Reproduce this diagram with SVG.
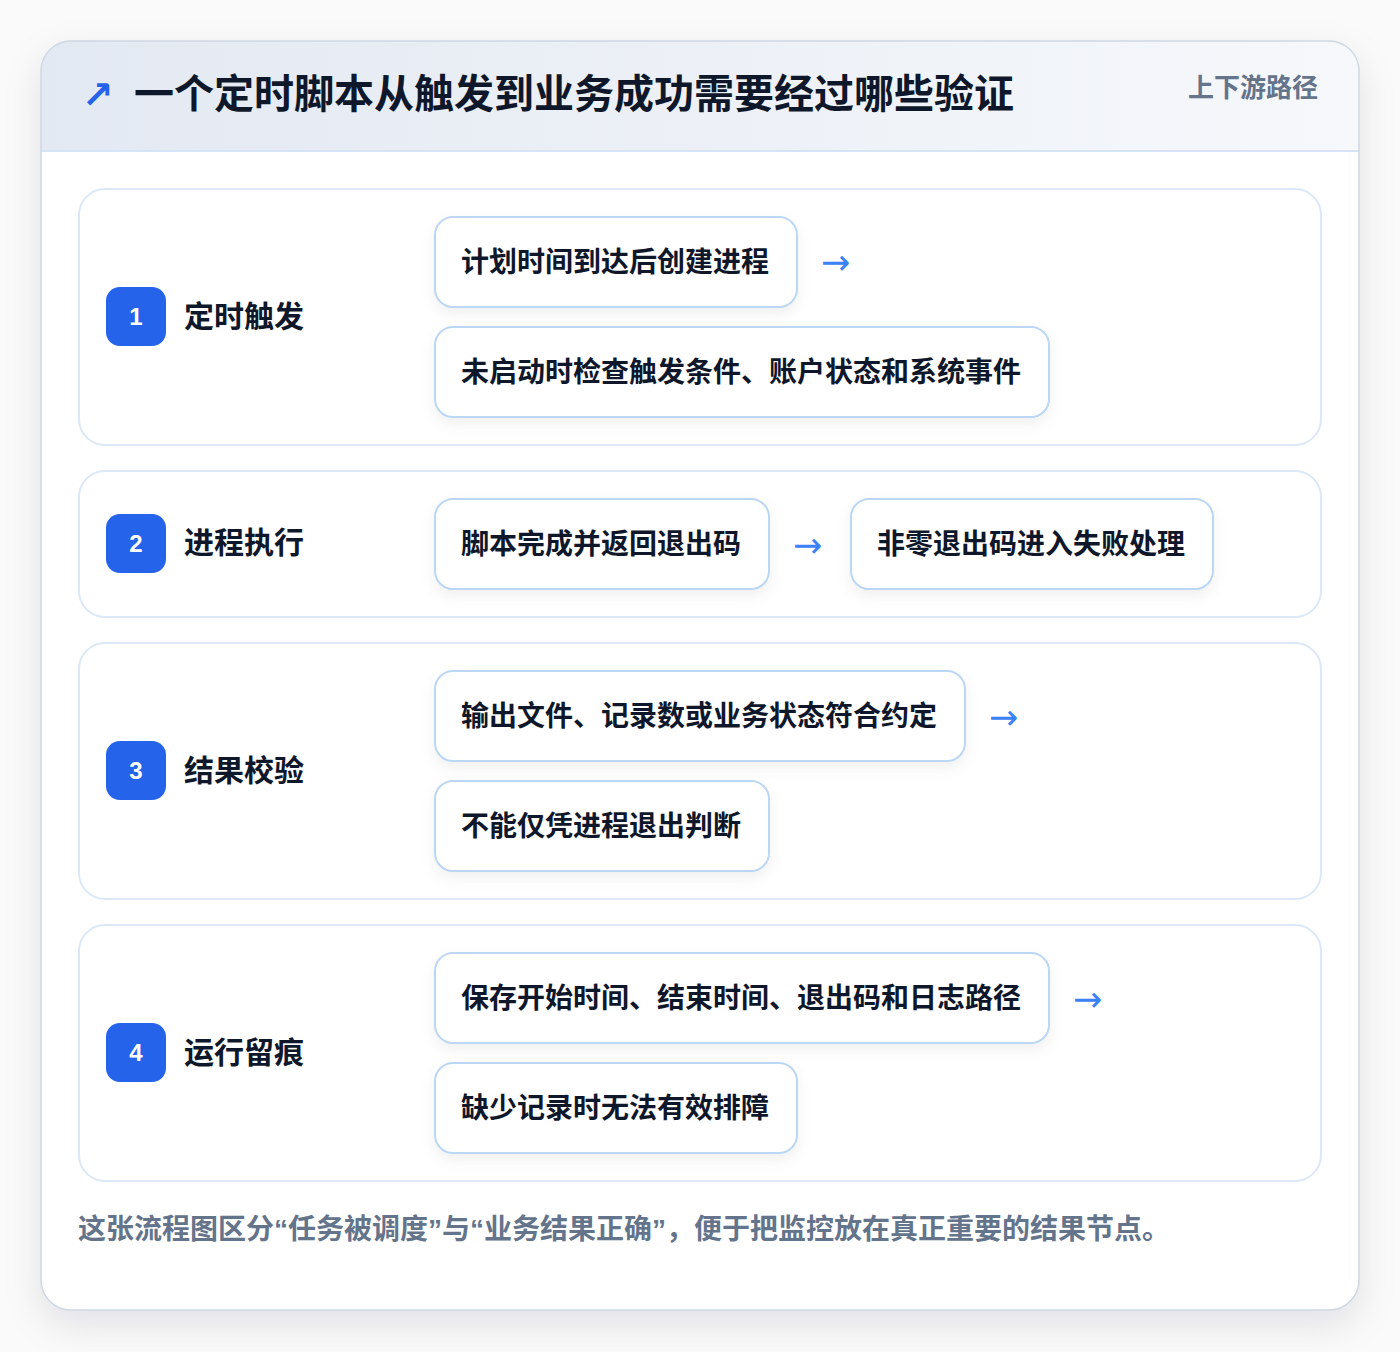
<svg xmlns="http://www.w3.org/2000/svg" width="1400" height="1352" viewBox="0 0 1400 1352">
<style>
.sec{fill:#ffffff;stroke:#dbe8f8;stroke-width:2}
.box{fill:#ffffff;stroke:#bcd6f5;stroke-width:2}
.badge{fill:#2563eb}
.num{font-family:"Liberation Sans",Arial,sans-serif;font-size:24px;font-weight:700;fill:#ffffff;text-anchor:middle}
.lbl{font-family:"Noto Sans CJK SC","Noto Sans",sans-serif;font-size:30px;font-weight:700;fill:#0f172a}
.bt{font-family:"Noto Sans CJK SC","Noto Sans",sans-serif;font-size:28px;font-weight:700;fill:#0f172a}
.arr{font-family:"DejaVu Sans",sans-serif;font-size:35px;fill:#3b82f6}
</style>
<defs>
<filter id="cardShadow" x="-10%" y="-10%" width="120%" height="125%">
<feDropShadow dx="0" dy="14" stdDeviation="18" flood-color="#0f172a" flood-opacity="0.10"/>
</filter>
<filter id="boxShadow" x="-10%" y="-20%" width="120%" height="150%">
<feDropShadow dx="0" dy="6" stdDeviation="7" flood-color="#0f172a" flood-opacity="0.06"/>
</filter>
<linearGradient id="hdr" x1="0" y1="0" x2="1" y2="0">
<stop offset="0" stop-color="#e3e9f2"/>
<stop offset="1" stop-color="#f6f8fb"/>
</linearGradient>
<clipPath id="cardClip"><rect x="41" y="41" width="1318" height="1269" rx="30"/></clipPath>
</defs>
<rect x="0" y="0" width="1400" height="1352" fill="#fafafa"/>
<g id="card">
<rect x="41" y="41" width="1318" height="1269" rx="30" fill="#ffffff" filter="url(#cardShadow)"/>
<g clip-path="url(#cardClip)">
<rect x="41" y="41" width="1318" height="110" fill="url(#hdr)"/>
<line x1="41" y1="151" x2="1359" y2="151" stroke="#d6e4f5" stroke-width="2"/>
</g>
<rect x="41" y="41" width="1318" height="1269" rx="30" fill="none" stroke="#cfd8e3" stroke-width="1.5"/>
</g>
<g id="header">
<text x="82" y="108" font-family="DejaVu Sans,sans-serif" font-size="38" font-weight="700" fill="#2563eb">↗</text>
<text x="134" y="108" font-family="Noto Sans CJK SC,Noto Sans,sans-serif" font-size="40" font-weight="700" fill="#0f172a">一个定时脚本从触发到业务成功需要经过哪些验证</text>
<text x="1318" y="97" text-anchor="end" font-family="Noto Sans CJK SC,Noto Sans,sans-serif" font-size="26" font-weight="600" fill="#64748b">上下游路径</text>
</g>
<g id="stage1">
<rect class="sec" x="79" y="189" width="1242" height="256" rx="26"/>
<rect class="badge" x="106" y="287" width="60" height="59" rx="14"/>
<text class="num" x="136" y="325">1</text>
<text class="lbl" x="184" y="327">定时触发</text>
</g>
<g id="node1a"><rect class="box" filter="url(#boxShadow)" x="435" y="217" width="362" height="90" rx="18"/><text class="bt" x="461" y="272">计划时间到达后创建进程</text></g>
<g id="node1b"><rect class="box" filter="url(#boxShadow)" x="435" y="327" width="614" height="90" rx="18"/><text class="bt" x="461" y="382">未启动时检查触发条件、账户状态和系统事件</text></g>
<g id="stage2">
<rect class="sec" x="79" y="471" width="1242" height="146" rx="26"/>
<rect class="badge" x="106" y="514" width="60" height="59" rx="14"/>
<text class="num" x="136" y="552">2</text>
<text class="lbl" x="184" y="553">进程执行</text>
</g>
<g id="node2a"><rect class="box" filter="url(#boxShadow)" x="435" y="499" width="334" height="90" rx="18"/><text class="bt" x="461" y="554">脚本完成并返回退出码</text></g>
<g id="node2b"><rect class="box" filter="url(#boxShadow)" x="851" y="499" width="362" height="90" rx="18"/><text class="bt" x="877" y="554">非零退出码进入失败处理</text></g>
<g id="stage3">
<rect class="sec" x="79" y="643" width="1242" height="256" rx="26"/>
<rect class="badge" x="106" y="741" width="60" height="59" rx="14"/>
<text class="num" x="136" y="779">3</text>
<text class="lbl" x="184" y="781">结果校验</text>
</g>
<g id="node3a"><rect class="box" filter="url(#boxShadow)" x="435" y="671" width="530" height="90" rx="18"/><text class="bt" x="461" y="726">输出文件、记录数或业务状态符合约定</text></g>
<g id="node3b"><rect class="box" filter="url(#boxShadow)" x="435" y="781" width="334" height="90" rx="18"/><text class="bt" x="461" y="836">不能仅凭进程退出判断</text></g>
<g id="stage4">
<rect class="sec" x="79" y="925" width="1242" height="256" rx="26"/>
<rect class="badge" x="106" y="1023" width="60" height="59" rx="14"/>
<text class="num" x="136" y="1061">4</text>
<text class="lbl" x="184" y="1063">运行留痕</text>
</g>
<g id="node4a"><rect class="box" filter="url(#boxShadow)" x="435" y="953" width="614" height="90" rx="18"/><text class="bt" x="461" y="1008">保存开始时间、结束时间、退出码和日志路径</text></g>
<g id="node4b"><rect class="box" filter="url(#boxShadow)" x="435" y="1063" width="362" height="90" rx="18"/><text class="bt" x="461" y="1118">缺少记录时无法有效排障</text></g>
<g id="connectors">
<text class="arr" x="821" y="274">→</text>
<text class="arr" x="793" y="557">→</text>
<text class="arr" x="989" y="729">→</text>
<text class="arr" x="1073" y="1011">→</text>
</g>
<g id="footer">
<text x="78" y="1239" font-family="Liberation Sans,Noto Sans CJK SC,sans-serif" font-size="28" font-weight="600" fill="#64748b">这张流程图区分“任务被调度”与“业务结果正确”，便于把监控放在真正重要的结果节点。</text>
</g>
</svg>
